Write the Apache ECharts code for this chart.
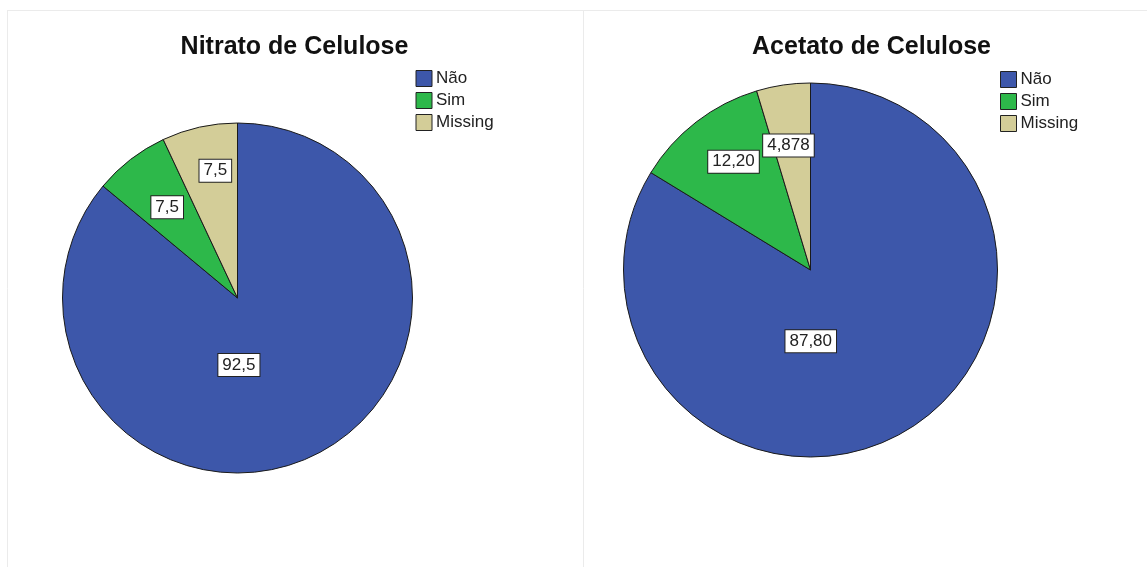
<!DOCTYPE html>
<html>
<head>
<meta charset="utf-8">
<script src="https://cdn.jsdelivr.net/npm/echarts@6/dist/echarts.min.js"></script>
<style>
html,body{margin:0;padding:0;background:#fff;}
#chart{width:1147px;height:567px;}
</style>
</head>
<body>
<div id="chart"></div>
<script>
// ---- data ----
const categories = ['Não', 'Sim', 'Missing'];
const nitratoValues = [92.5, 7.5, 7.5];
const acetatoValues = [87.80, 12.20, 4.878];
const nitratoLabels = ['92,5', '7,5', '7,5'];
const acetatoLabels = ['87,80', '12,20', '4,878'];
const titles = ['Nitrato de Celulose', 'Acetato de Celulose'];

// ---- styles ----
const colors = ['#3D57AA', '#2DB84A', '#D3CD98'];
const labelOffsets = [
  [[-37, -15], [-15, -19], [-2.5, -39]],
  [[-47, -13], [-18, -32], [-8, -29]]
];
const FONT = 'Liberation Sans, Arial, sans-serif';

const chart = echarts.init(document.getElementById('chart'));

function buildData(values) {
  return categories.map((c, i) => ({ name: c, value: values[i], itemStyle: { color: colors[i] } }));
}

function pieSeries(idx, values, labels, center, radius) {
  return {
    type: 'pie',
    center: center,
    radius: radius,
    startAngle: 90,
    clockwise: true,
    avoidLabelOverlap: false,
    animation: false,
    data: buildData(values),
    itemStyle: { borderColor: '#1a1a1a', borderWidth: 1 },
    label: {
      position: 'inside',
      formatter: p => labels[p.dataIndex],
      color: '#222',
      fontFamily: FONT,
      fontSize: 17,
      lineHeight: 17,
      backgroundColor: '#fff',
      borderColor: '#222',
      borderWidth: 1,
      padding: [3, 4, 2, 4]
    },
    labelLine: { show: false },
    labelLayout: function (p) {
      const o = labelOffsets[idx][p.dataIndex];
      return { dx: o[0], dy: o[1] };
    },
    emphasis: { disabled: true }
  };
}

const legendCommon = {
  orient: 'vertical',
  icon: 'rect',
  itemWidth: 16,
  itemHeight: 16,
  itemGap: 5,
  data: categories,
  itemStyle: { borderColor: '#222', borderWidth: 1 },
  textStyle: { fontFamily: FONT, fontSize: 17, lineHeight: 16, color: '#222', padding: [0, 0, 0, -1] },
  selectedMode: false
};

chart.setOption({
  backgroundColor: '#fff',
  title: [
    { text: titles[0], left: 289.5, top: 30, textAlign: 'center',
      textStyle: { fontFamily: FONT, fontSize: 25, fontWeight: 'bold', color: '#111' } },
    { text: titles[1], left: 866.5, top: 30, textAlign: 'center',
      textStyle: { fontFamily: FONT, fontSize: 25, fontWeight: 'bold', color: '#111' } }
  ],
  legend: [
    Object.assign({}, legendCommon, { left: 410.5, top: 65 }),
    Object.assign({}, legendCommon, { left: 995, top: 66 })
  ],
  graphic: [
    { type: 'line', shape: { x1: 7, y1: 10.5, x2: 1147, y2: 10.5 }, style: { stroke: '#ebebeb', lineWidth: 1 } },
    { type: 'line', shape: { x1: 7.5, y1: 10, x2: 7.5, y2: 567 }, style: { stroke: '#ebebeb', lineWidth: 1 } },
    { type: 'line', shape: { x1: 583.5, y1: 10, x2: 583.5, y2: 567 }, style: { stroke: '#ebebeb', lineWidth: 1 } }
  ],
  series: [
    pieSeries(0, nitratoValues, nitratoLabels, [237.5, 298], 175),
    pieSeries(1, acetatoValues, acetatoLabels, [810.5, 270], 187)
  ]
});
</script>
</body>
</html>
